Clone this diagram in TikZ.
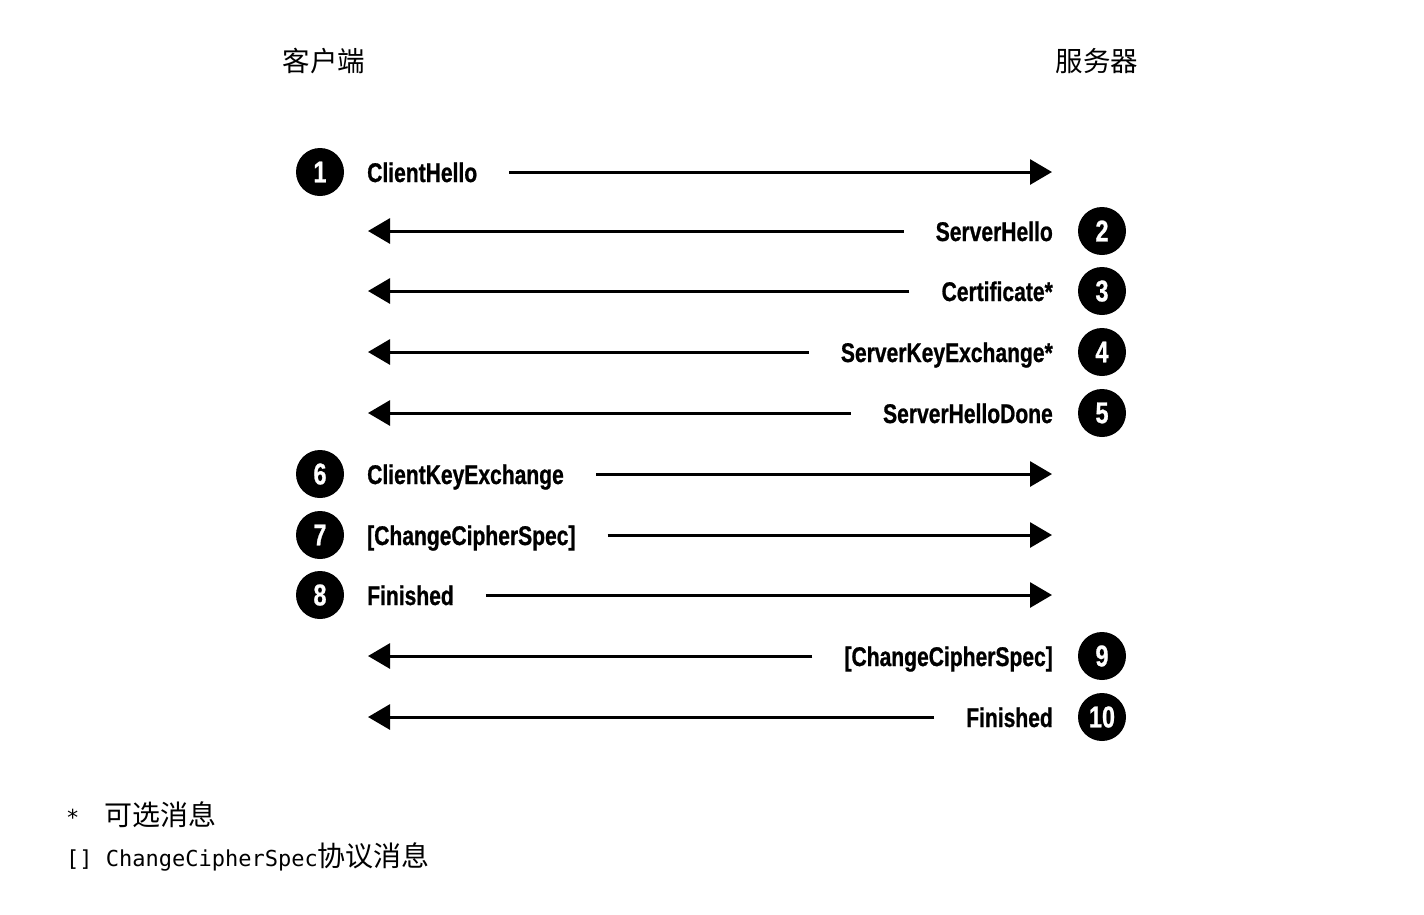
\documentclass[tikz,border=0pt]{standalone}
\usepackage{fontspec}
\usetikzlibrary{arrows.meta}
\setmainfont{Liberation Sans}
\newfontfamily\lab[FakeStretch=0.78,FakeBold=0.8,UprightFont=* Bold]{Liberation Sans}
\newfontfamily\cjk{Noto Sans CJK SC}
\newfontfamily\mono{DejaVu Sans Mono}
\tikzset{
  num/.style={circle, fill=black, minimum size=48pt, inner sep=0pt, text=white, font=\lab\fontsize{30}{30}\selectfont},
  lbl/.style={inner sep=0pt, font=\lab\fontsize{27}{27}\selectfont},
  msg/.style={line width=3pt, -{Triangle[length=22pt,width=25pt]}},
  ttl/.style={inner sep=0pt, font=\cjk\fontsize{27.5}{27.5}\selectfont},
  note/.style={inner sep=0pt, anchor=west, font=\cjk\fontsize{28}{28}\selectfont}
}
\begin{document}
\begin{tikzpicture}[x=1pt,y=-1pt]
\useasboundingbox[fill=white] (0,0) rectangle (1424,914);
\node[ttl] (client) at (324,61) {客户端};
\node[ttl] (server) at (1097,61) {服务器};
% client -> server
\foreach \n/\y/\t in {1/172/ClientHello, 6/474/ClientKeyExchange, 7/535/[ChangeCipherSpec], 8/595/Finished}{
  \node[num] (c\n) at (320,\y) {\n};
  \node[lbl, anchor=base west] (l\n) at (367,\y+10) {\t};
  \coordinate (e\n) at (1052,\y);
  \draw[msg] ([xshift=32pt]l\n.east |- e\n) -- (e\n);
}
% server -> client
\foreach \n/\y/\t in {2/231/ServerHello, 3/291/Certificate*, 4/352/ServerKeyExchange*, 5/413/ServerHelloDone, 9/656/[ChangeCipherSpec], 10/717/Finished}{
  \node[num] (c\n) at (1102,\y) {\n};
  \node[lbl, anchor=base east] (l\n) at (1053,\y+10) {\t};
  \coordinate (e\n) at (368,\y);
  \draw[msg] ([xshift=-32pt]l\n.west |- e\n) -- (e\n);
}
\node[note] (star) at (66,817) {\mono\fontsize{22}{22}\selectfont *};
\node[note] (opt) at (104,815) {可选消息};
\node[note] (ccs) at (66,857) {{\mono\fontsize{22}{22}\selectfont [] ChangeCipherSpec}协议消息};
\end{tikzpicture}
\end{document}
